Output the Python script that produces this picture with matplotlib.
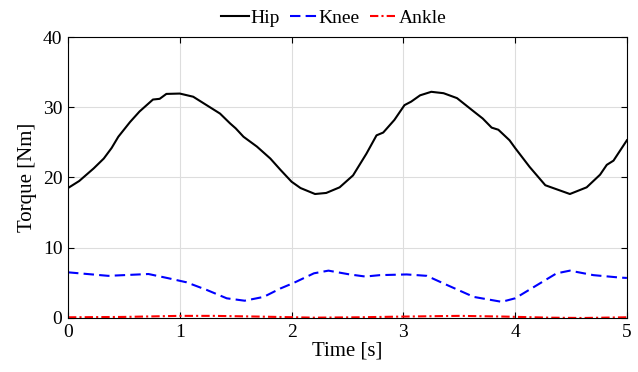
import matplotlib
matplotlib.use("Agg")
import matplotlib.pyplot as plt

plt.rcParams['font.family'] = ['Liberation Serif', 'DejaVu Serif']
plt.rcParams['mathtext.fontset'] = 'stix'

hip_t = [0, 0.1, 0.23, 0.32, 0.39, 0.45, 0.555, 0.64, 0.76, 0.82, 0.88, 1.0, 1.12, 1.24,
         1.36, 1.45, 1.5, 1.57, 1.69, 1.81, 1.9, 2.0, 2.08, 2.21, 2.31, 2.43, 2.55, 2.67,
         2.76, 2.82, 2.92, 3.01, 3.07, 3.15, 3.25, 3.36, 3.48, 3.63, 3.71, 3.79, 3.85,
         3.95, 4.0, 4.13, 4.27, 4.34, 4.49, 4.64, 4.76, 4.82, 4.88, 5.0]
hip_v = [18.5, 19.5, 21.3, 22.7, 24.2, 25.8, 27.9, 29.4, 31.1, 31.2, 31.9, 31.95, 31.5, 30.3,
         29.1, 27.7, 27.0, 25.8, 24.4, 22.7, 21.1, 19.4, 18.5, 17.65, 17.8, 18.6, 20.3, 23.4,
         26.0, 26.4, 28.2, 30.3, 30.8, 31.7, 32.2, 32.0, 31.3, 29.4, 28.4, 27.1, 26.8,
         25.3, 24.2, 21.5, 18.9, 18.5, 17.65, 18.6, 20.4, 21.8, 22.4, 25.3]

knee_t = [0, 0.36, 0.72, 0.9, 1.06, 1.24, 1.42, 1.58, 1.75, 1.9, 2.02, 2.2, 2.33, 2.52,
          2.66, 2.79, 3.03, 3.21, 3.39, 3.63, 3.88, 4.0, 4.25, 4.37, 4.49, 4.7, 4.94, 5.0]
knee_v = [6.5, 6.0, 6.26, 5.65, 5.08, 4.0, 2.8, 2.46, 3.0, 4.2, 5.0, 6.36, 6.74, 6.2,
          5.9, 6.1, 6.2, 6.0, 4.7, 3.0, 2.3, 2.8, 5.2, 6.35, 6.74, 6.1, 5.75, 5.7]

ankle_t = [0, 0.5, 1.0, 1.3, 1.7, 2.2, 2.6, 3.0, 3.5, 3.9, 4.3, 4.6, 5.0]
ankle_v = [0.1, 0.15, 0.3, 0.3, 0.2, 0.05, 0.1, 0.2, 0.3, 0.2, 0.05, 0.0, 0.1]

fig = plt.figure(figsize=(6.38, 3.72), dpi=100)
ax = fig.add_axes([0.1066, 0.1452, 0.876, 0.7553])

ax.plot(hip_t, hip_v, color='black', lw=1.5, ls='-', label='Hip')
ax.plot(knee_t, knee_v, color='blue', lw=1.5, ls=(0, (5, 2.5)), label='Knee')
ax.plot(ankle_t, ankle_v, color='red', lw=1.5, ls=(0, (4, 1.5, 1, 1.5)), label='Ankle')

ax.set_xlim(0, 5)
ax.set_ylim(0, 40)
ax.set_xticks([0, 1, 2, 3, 4, 5])
ax.set_yticks([0, 10, 20, 30, 40])
ax.grid(True, color='#dddddd', lw=0.8)
ax.set_axisbelow(True)
ax.tick_params(direction='in', top=True, right=True, labelsize=14, length=4, width=0.8, pad=4)
for s in ax.spines.values():
    s.set_linewidth(0.8)
ax.set_xlabel('Time [s]', fontsize=15, labelpad=1)
ax.set_ylabel('Torque [Nm]', fontsize=15, labelpad=4)

fig.legend(*ax.get_legend_handles_labels(), loc='center', bbox_to_anchor=(0.5235, 0.951),
           ncol=3, frameon=False, fontsize=14, handlelength=1.4, handletextpad=0.1,
           columnspacing=0.5, borderaxespad=0.0, borderpad=0.0)

fig.savefig('out.png', dpi=100)
